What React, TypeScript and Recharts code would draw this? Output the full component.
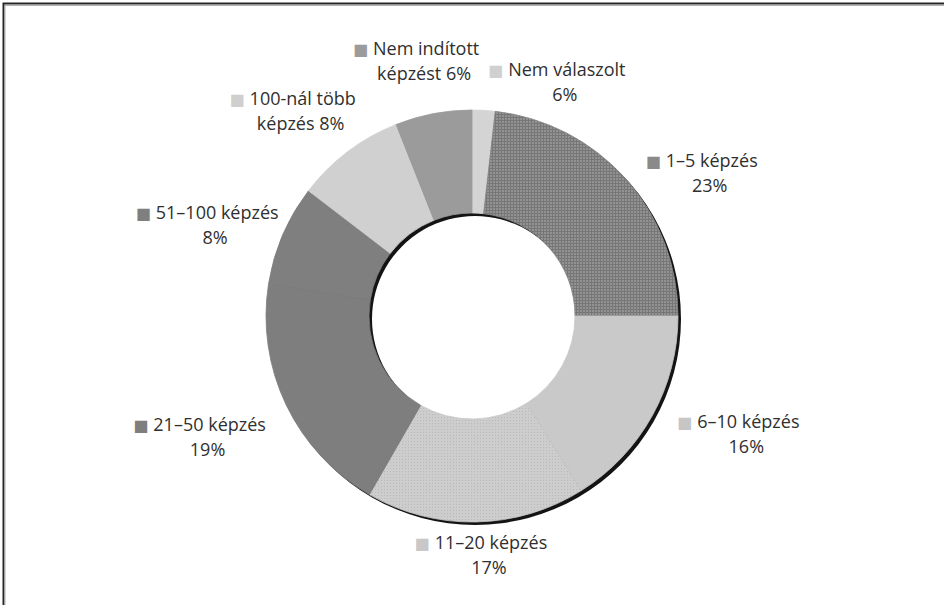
import { PieChart, Pie, Cell } from "recharts";

// szeletek, az óramutató irányában 12 órától
const categories = [
  "Nem válaszolt",
  "1–5 képzés",
  "6–10 képzés",
  "11–20 képzés",
  "21–50 képzés",
  "51–100 képzés",
  "100-nál több képzés",
  "Nem indított képzést",
];
// szeletek aránya (%)
const shares = [1.8, 23.2, 16.1, 17.2, 19.2, 7.9, 8.6, 6.0];
// feliratok, ahogy a képen állnak (két sorban)
const labelLines = [
  ["Nem válaszolt", "6%"],
  ["1–5 képzés", "23%"],
  ["6–10 képzés", "16%"],
  ["11–20 képzés", "17%"],
  ["21–50 képzés", "19%"],
  ["51–100 képzés", "8%"],
  ["100-nál több", "képzés 8%"],
  ["Nem indított", "képzést 6%"],
];

const data = categories.map((name, i) => ({ name, value: shares[i] }));
// az árnyék egyetlen gyűrű, hogy ne látszódjanak rések a szeletek között
const shadowData = [{ name: "árnyék", value: shares.reduce((a, b) => a + b, 0) }];

const sliceFills = [
  "#d4d4d4",
  "url(#grid15)",
  "#c9c9c9",
  "url(#dots1120)",
  "#7e7e7e",
  "#7f7f7f",
  "#d0d0d0",
  "#9b9b9b",
];
// szélek a réseken átlátszó árnyék eltakarására
const sliceEdges = ["#d4d4d4", "#878787", "#c9c9c9", "#c8c8c8", "#7e7e7e", "#7f7f7f", "#d0d0d0", "#9b9b9b"];
const markerFills = ["#d0d0d0", "#8a8a8a", "#c6c6c6", "#c8c8c8", "#7e7e7e", "#7f7f7f", "#cfcfcf", "#9b9b9b"];

// felirat-eltolások a szelet közepéhez képest
const labelNudge = [
  { dx: 78, dy: 27 },
  { dx: 43, dy: 31 },
  { dx: 46, dy: -8 },
  { dx: 12, dy: -22 },
  { dx: -29, dy: 8 },
  { dx: -17, dy: 12 },
  { dx: -14, dy: 3 },
  { dx: 1, dy: 1 },
];

const RAD = Math.PI / 180;
const FONT = "'Open Sans', 'DejaVu Sans', sans-serif";

function renderLabel(props: any) {
  const { cx, cy, midAngle, outerRadius, index } = props;
  const r = outerRadius + 55;
  const n = labelNudge[index];
  const x = cx + r * Math.cos(-midAngle * RAD) + n.dx;
  const y = cy + r * Math.sin(-midAngle * RAD) + n.dy;
  const [l1, l2] = labelLines[index];
  return (
    <g key={`lbl-${index}`}>
      <text x={x - 8} y={y - 6} textAnchor="middle" fontFamily={FONT} fontSize={18} fill="#2f2f2f">
        <tspan fill={markerFills[index]} fontFamily="'DejaVu Sans'" fontSize={16}>
          ■
        </tspan>
        <tspan dx={5}>{l1}</tspan>
      </text>
      <text x={x} y={y + 19} textAnchor="middle" fontFamily={FONT} fontSize={18} fill="#2f2f2f">
        {l2}
      </text>
    </g>
  );
}

export default function App() {
  return (
    <div style={{ position: "absolute", left: 0, top: 0, width: 944, height: 605, background: "#fff", overflow: "hidden" }}>
      <PieChart width={944} height={605} margin={{ top: 0, right: 0, bottom: 0, left: 0 }}>
        <defs>
          <pattern id="grid15" width="3" height="3" patternUnits="userSpaceOnUse">
            <rect width="3" height="3" fill="#929292" />
            <rect width="3" height="1" fill="#777777" />
            <rect width="1" height="3" fill="#777777" />
          </pattern>
          <pattern id="dots1120" width="3" height="3" patternUnits="userSpaceOnUse">
            <rect width="3" height="3" fill="#cdcdcd" />
            <rect width="1" height="1" fill="#b9b9b9" />
          </pattern>
        </defs>
        {/* árnyék a gyűrű mögött */}
        <Pie
          data={shadowData}
          dataKey="value"
          cx={475}
          cy={319}
          innerRadius={103}
          outerRadius={206}
          startAngle={90}
          endAngle={-270}
          stroke="none"
          fill="#141414"
          isAnimationActive={false}
        />
        <Pie
          data={data}
          dataKey="value"
          cx={472}
          cy={316}
          innerRadius={103}
          outerRadius={206}
          startAngle={90}
          endAngle={-270}
          label={renderLabel}
          labelLine={false}
          isAnimationActive={false}
        >
          {data.map((d, i) => (
            <Cell key={d.name} fill={sliceFills[i]} stroke={sliceEdges[i]} strokeWidth={0.8} />
          ))}
        </Pie>
      </PieChart>
      {/* keret bal és felső széle */}
      <svg width={944} height={605} style={{ position: "absolute", left: 0, top: 0, pointerEvents: "none" }}>
        <path d="M3.5 605 V3.5 H944" fill="none" stroke="#262626" strokeWidth={2} />
        <path d="M5 605 V5.5 H944" fill="none" stroke="#b0b0b0" strokeWidth={1} />
      </svg>
    </div>
  );
}
